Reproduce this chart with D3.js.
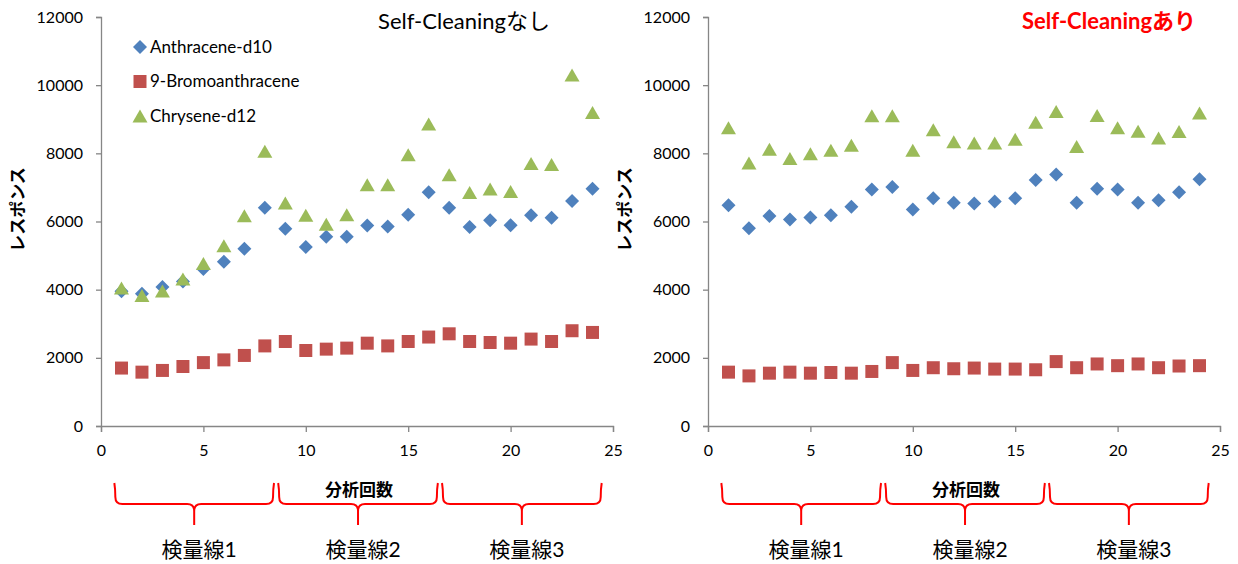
<!DOCTYPE html>
<html>
<head>
<meta charset="utf-8">
<script src="https://cdn.jsdelivr.net/npm/d3@7"></script>
<style>
  body { margin: 0; background: #fff; }
  text { font-family: Lato, "Noto Sans CJK JP", sans-serif; }
</style>
</head>
<body>
<svg id="chart" width="1238" height="564"></svg>
<script>
// data
const runs = [1,2,3,4,5,6,7,8,9,10,11,12,13,14,15,16,17,18,19,20,21,22,23,24];
const seriesNames = ["Anthracene-d10", "9-Bromoanthracene", "Chrysene-d12"];

const nashiAnthracene = [3950,3880,4080,4240,4610,4820,5200,6400,5790,5250,5550,5550,5880,5850,6200,6860,6400,5840,6040,5890,6180,6110,6600,6960];
const nashiBromo      = [1700,1580,1630,1745,1860,1940,2070,2350,2480,2215,2255,2285,2430,2350,2480,2610,2705,2480,2450,2430,2550,2480,2795,2745];
const nashiChrysene   = [4050,3830,3960,4310,4770,5290,6170,8060,6540,6180,5920,6200,7080,7080,7960,8860,7370,6850,6950,6880,7700,7670,10300,9200];

const ariAnthracene = [6480,5800,6160,6060,6120,6180,6430,6940,7010,6350,6680,6550,6530,6590,6680,7220,7380,6550,6960,6940,6550,6620,6860,7240];
const ariBromo      = [1580,1470,1550,1580,1550,1570,1550,1600,1860,1630,1710,1680,1700,1670,1670,1650,1890,1710,1820,1770,1820,1710,1760,1770];
const ariChrysene   = [8750,7720,8120,7850,7990,8090,8240,9100,9100,8090,8690,8340,8300,8300,8410,8910,9230,8200,9110,8750,8650,8450,8640,9180];

const xTicks = [0,5,10,15,20,25];
const yTicks = [0,2000,4000,6000,8000,10000,12000];

const groups = [
  {label: "検量線1", from: 1, to: 8},
  {label: "検量線2", from: 9, to: 16},
  {label: "検量線3", from: 17, to: 24}
];

const svg = d3.select("#chart");
const w = 512, h = 409;
const colors = ["#4F81BD", "#C0504D", "#9BBB59"];
const shapes = [
  "M0,-7L7,0L0,7L-7,0Z",          // diamond
  "M-6.5,-6.5H6.5V6.5H-6.5Z",     // square
  "M0,-6.5L7.5,6.5L-7.5,6.5Z"     // triangle
];

const panels = [
  {left: 101, title: "Self-Cleaningなし", titleX: 363, titleColor: "#000", titleWeight: "normal",
   data: [nashiAnthracene, nashiBromo, nashiChrysene], legend: true},
  {left: 708, title: "Self-Cleaningあり", titleX: 401, titleColor: "#FF0000", titleWeight: "bold",
   data: [ariAnthracene, ariBromo, ariChrysene], legend: false}
];

const xScale = d3.scaleLinear().domain([0, 25]).range([0, w]);
const yScale = d3.scaleLinear().domain([0, 12000]).range([h, 0]);

panels.forEach(function (p) {
  const g = svg.append("g").attr("transform", "translate(" + p.left + "," + 17 + ")");

  // axes
  const xAxis = d3.axisBottom(xScale).tickValues(xTicks).tickSize(6).tickPadding(13);
  const yAxis = d3.axisLeft(yScale).tickValues(yTicks).tickSize(5).tickPadding(13)
    .tickFormat(d3.format("d"));

  const gx = g.append("g").attr("transform", "translate(0," + h + ")").call(xAxis);
  const gy = g.append("g").call(yAxis);
  [gx, gy].forEach(function (a) {
    a.select(".domain").attr("stroke", "#868686").attr("stroke-width", 1.3);
    a.selectAll(".tick line").attr("stroke", "#868686").attr("stroke-width", 1.3);
    a.selectAll(".tick text").attr("fill", "#000").style("font-size", "16px")
      .style("font-family", "Lato, sans-serif");
  });

  // points, drawn in series order so the triangles sit on top
  p.data.forEach(function (vals, si) {
    g.append("g").selectAll("path")
      .data(vals)
      .join("path")
      .attr("d", shapes[si])
      .attr("fill", colors[si])
      .attr("transform", function (d, i) {
        return "translate(" + xScale(runs[i]) + "," + yScale(d) + ")";
      });
  });

  // title
  g.append("text")
    .attr("x", p.titleX)
    .attr("y", 4)
    .attr("dy", "0.35em")
    .attr("text-anchor", "middle")
    .attr("fill", p.titleColor)
    .attr("font-weight", p.titleWeight)
    .style("font-size", "22px")
    .text(p.title);

  // axis titles
  g.append("text")
    .attr("transform", "translate(-83," + (h / 2 - 12) + ") rotate(-90)")
    .attr("text-anchor", "middle")
    .attr("dy", "0.35em")
    .attr("font-weight", "bold")
    .style("font-size", "17px")
    .text("レスポンス");

  g.append("text")
    .attr("x", xScale(12.6))
    .attr("y", h + 64)
    .attr("dy", "0.35em")
    .attr("text-anchor", "middle")
    .attr("font-weight", "bold")
    .style("font-size", "17px")
    .text("分析回数");

  // braces for calibration lines
  const top = h + 57, mid = h + 78, tip = h + 99, r = 7;
  groups.forEach(function (gr) {
    const x0 = xScale(gr.from - 0.3), x1 = xScale(gr.to + 0.4), xm = (x0 + x1) / 2;
    const path = "M" + (x0 - 1) + "," + top +
      "Q" + x0 + "," + (top + 6) + " " + x0 + "," + (mid - r) +
      "Q" + x0 + "," + mid + " " + (x0 + r) + "," + mid +
      "L" + (xm - r) + "," + mid +
      "Q" + xm + "," + mid + " " + xm + "," + (mid + r) +
      "L" + xm + "," + tip +
      "M" + xm + "," + (mid + r) +
      "Q" + xm + "," + mid + " " + (xm + r) + "," + mid +
      "L" + (x1 - r) + "," + mid +
      "Q" + x1 + "," + mid + " " + x1 + "," + (mid - r) +
      "Q" + x1 + "," + (top + 6) + " " + (x1 + 1) + "," + top;
    g.append("path")
      .attr("d", path)
      .attr("fill", "none")
      .attr("stroke", "#FF0000")
      .attr("stroke-width", 2);

    g.append("text")
      .attr("x", xm + 5)
      .attr("y", h + 124)
      .attr("dy", "0.35em")
      .attr("text-anchor", "middle")
      .style("font-size", "21px")
      .text(gr.label);
  });

  // legend
  if (p.legend) {
    const lg = g.append("g");
    seriesNames.forEach(function (name, si) {
      const row = lg.append("g").attr("transform", "translate(39," + (30 + si * 34.5) + ")");
      row.append("path").attr("d", shapes[si]).attr("fill", colors[si]);
      row.append("text")
        .attr("x", 10)
        .attr("dy", "0.35em")
        .style("font-size", "17px")
        .text(name);
    });
  }
});
</script>
</body>
</html>
